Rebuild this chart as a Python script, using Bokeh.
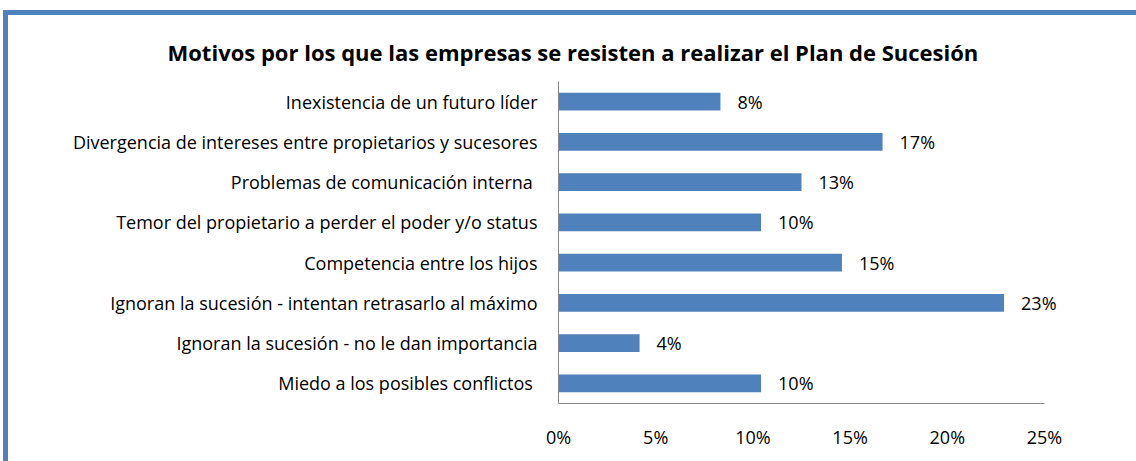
from bokeh.plotting import figure
from bokeh.models import ColumnDataSource, FactorRange, Range1d, NumeralTickFormatter, FixedTicker, LabelSet
from bokeh.core.properties import value
from bokeh.embed import file_html
from bokeh.resources import INLINE

categories = [
    "Inexistencia de un futuro líder",
    "Divergencia de intereses entre propietarios y sucesores",
    "Problemas de comunicación interna ",
    "Temor del propietario a perder el poder y/o status",
    "Competencia entre los hijos",
    "Ignoran la sucesión - intentan retrasarlo al máximo",
    "Ignoran la sucesión - no le dan importancia",
    "Miedo a los posibles conflictos ",
]
values = [0.0833, 0.1667, 0.125, 0.1042, 0.1458, 0.2292, 0.0417, 0.1042]
value_labels = ["8%", "17%", "13%", "10%", "15%", "23%", "4%", "10%"]
x_ticks = [0, 0.05, 0.10, 0.15, 0.20, 0.25]

FONT = "Open Sans"
BLUE = "#4F81BD"
FS = "18px"

# axis spans 558..1044 px; frame extended to 1130 px so value labels are not clipped
AXIS_W = 1044 - 558
FRAME_W = 1130 - 558
x_end = x_ticks[-1] * FRAME_W / AXIS_W

src = ColumnDataSource(dict(cat=categories, val=values, lab=value_labels))

p = figure(
    width=1136, height=461,
    y_range=FactorRange(*reversed(categories)),
    x_range=Range1d(0, x_end),
    output_backend="svg", toolbar_location=None,
    min_border_left=558, min_border_right=6, min_border_top=81, min_border_bottom=58,
)
p.styles = {"box-shadow": "inset 0 10px 0 0 #ffffff, inset 3px 0 0 0 #ffffff, "
                          "inset 0 15px 0 0 #4F81BD, inset 8px 0 0 0 #4F81BD"}
p.border_fill_alpha = 0
p.background_fill_color = "white"
p.outline_line_color = None

p.hbar(y="cat", right="val", left=0, height=0.435, source=src, color=BLUE, line_color=None)

labels = LabelSet(x="val", y="cat", text="lab", source=src, x_offset=17,
                  text_baseline="middle", text_align="left",
                  text_font=value(FONT), text_font_size=FS, text_color="black")
p.add_layout(labels)

p.title.text = "Motivos por los que las empresas se resisten a realizar el Plan de Sucesión"
p.title.text_font = FONT
p.title.text_font_size = "22px"
p.title.text_font_style = "bold"
p.title.text_color = "black"
p.title.align = "left"
p.title.offset = -391
p.title.standoff = 29

p.xgrid.visible = False
p.ygrid.visible = False

p.xaxis.ticker = FixedTicker(ticks=x_ticks)
p.xaxis.bounds = (x_ticks[0], x_ticks[-1])
p.xaxis.formatter = NumeralTickFormatter(format="0%")
p.xaxis.major_tick_line_color = None
p.xaxis.minor_tick_line_color = None
p.xaxis.major_tick_out = 0
p.xaxis.major_tick_in = 0
p.xaxis.axis_line_color = "#868686"
p.xaxis.major_label_standoff = 21
p.xaxis.major_label_text_font = FONT
p.xaxis.major_label_text_font_size = FS
p.xaxis.major_label_text_color = "black"

p.yaxis.major_tick_line_color = None
p.yaxis.minor_tick_line_color = None
p.yaxis.major_tick_out = 0
p.yaxis.major_tick_in = 0
p.yaxis.axis_line_color = "#868686"
p.yaxis.major_label_standoff = 21
p.yaxis.major_label_text_font = FONT
p.yaxis.major_label_text_font_size = FS
p.yaxis.major_label_text_color = "black"

open("out.html", "w").write(file_html(p, INLINE))
